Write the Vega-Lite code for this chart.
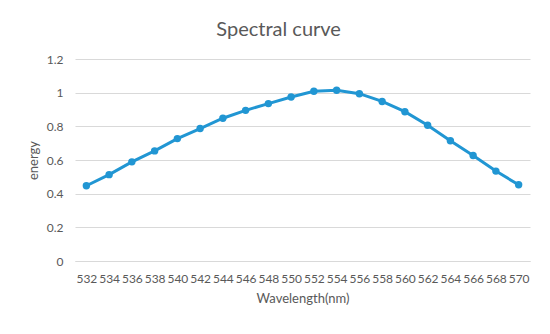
{
  "$schema": "https://vega.github.io/schema/vega-lite/v6.json",
  "autosize": {"type": "none"},
  "width": 455,
  "height": 202,
  "padding": {"left": 75, "top": 59, "right": 20, "bottom": 73},
  "background": "white",
  "title": {
    "text": "Spectral curve",
    "font": "Lato",
    "fontSize": 20,
    "fontWeight": "normal",
    "color": "#595959",
    "offset": 13,
    "anchor": "middle",
    "frame": "bounds"
  },
  "config": {
    "view": {"stroke": null},
    "font": "Lato"
  },
  "data": {
    "values": [
      {"wavelength": 532, "energy": 0.447},
      {"wavelength": 534, "energy": 0.513},
      {"wavelength": 536, "energy": 0.589},
      {"wavelength": 538, "energy": 0.654},
      {"wavelength": 540, "energy": 0.727},
      {"wavelength": 542, "energy": 0.787},
      {"wavelength": 544, "energy": 0.848},
      {"wavelength": 546, "energy": 0.895},
      {"wavelength": 548, "energy": 0.935},
      {"wavelength": 550, "energy": 0.974},
      {"wavelength": 552, "energy": 1.008},
      {"wavelength": 554, "energy": 1.014},
      {"wavelength": 556, "energy": 0.994},
      {"wavelength": 558, "energy": 0.948},
      {"wavelength": 560, "energy": 0.887},
      {"wavelength": 562, "energy": 0.806},
      {"wavelength": 564, "energy": 0.714},
      {"wavelength": 566, "energy": 0.627},
      {"wavelength": 568, "energy": 0.534},
      {"wavelength": 570, "energy": 0.453}
    ]
  },
  "mark": {
    "type": "line",
    "color": "#2196d3",
    "strokeWidth": 3,
    "point": {"filled": true, "size": 55, "color": "#2196d3"}
  },
  "encoding": {
    "x": {
      "field": "wavelength",
      "type": "ordinal",
      "scale": {"padding": 0.5},
      "axis": {
        "title": "Wavelength(nm)",
        "labelAngle": 0,
        "labelFontSize": 12,
        "labelColor": "#595959",
        "labelPadding": 12,
        "ticks": false,
        "domainColor": "#d9d9d9",
        "titleFontSize": 13,
        "titleFontWeight": "normal",
        "titleColor": "#595959",
        "titlePadding": 8
      }
    },
    "y": {
      "field": "energy",
      "type": "quantitative",
      "scale": {"domain": [0, 1.2], "nice": false},
      "axis": {
        "title": "energy",
        "values": [0, 0.2, 0.4, 0.6, 0.8, 1, 1.2],
        "format": "~g",
        "labelFontSize": 12,
        "labelColor": "#595959",
        "labelPadding": 12,
        "ticks": false,
        "domain": false,
        "gridColor": "#d9d9d9",
        "titleFontSize": 13,
        "titleFontWeight": "normal",
        "titleColor": "#595959",
        "titlePadding": 6
      }
    }
  }
}
